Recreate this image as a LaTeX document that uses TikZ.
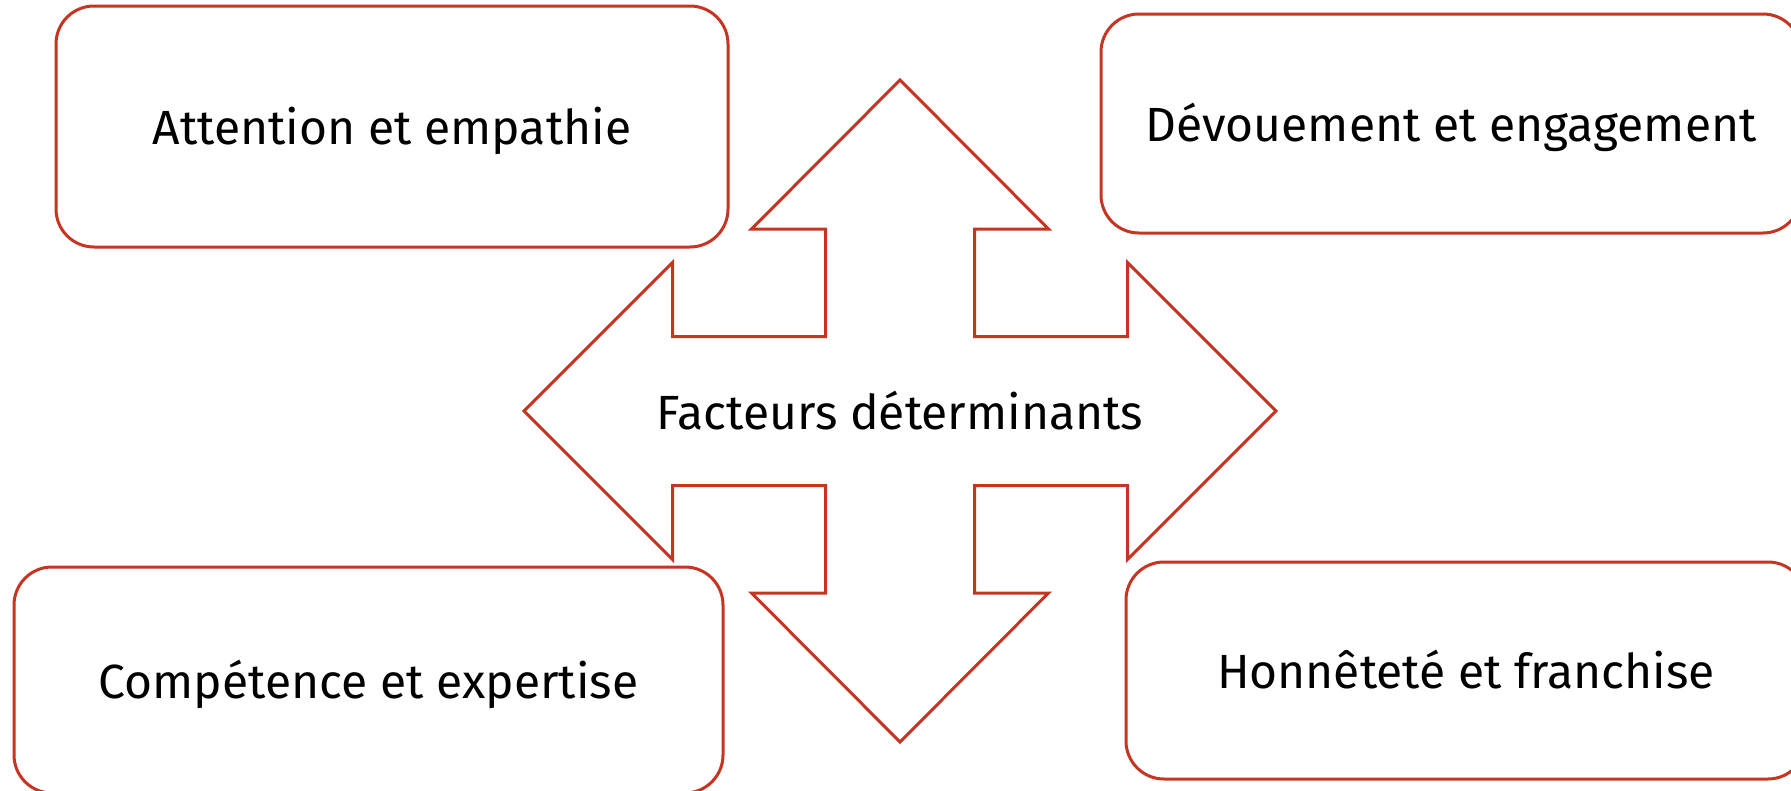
\documentclass[tikz,border=0pt]{standalone}
\usepackage{fontspec}
\setmainfont{Fira Sans}
\usepackage{tikz}
\usetikzlibrary{positioning, calc}
\definecolor{rouge}{RGB}{198,52,34}

\begin{document}
\begin{tikzpicture}[x=1pt,y=-1pt,line width=3pt,
  font=\fontsize{48}{56}\selectfont,
  facteur/.style={draw=rouge,fill=white,rounded corners=38pt,align=center,inner sep=0pt,
    text height=36pt,text depth=0pt}]
  \def\sw{74.5}   % demi-largeur du tronc
  \def\hw{148.5}  % demi-largeur de la pointe
  \def\hx{227.5}  % base des pointes horizontales
  \def\tx{376}    % sommet des pointes horizontales
  \def\hy{182}    % base des pointes verticales
  \def\ty{331}    % sommet des pointes verticales

  \useasboundingbox (0,0) rectangle (1791,790);
  \clip (0,0) rectangle (1791,790);

  % ---------- croix centrale ----------
  \begin{scope}[shift={(900,411)}]
    \draw[rouge,line join=miter] (0,-\ty) -- (\hw,-\hy) -- (\sw,-\hy) -- (\sw,-\sw)
      -- (\hx,-\sw) -- (\hx,-\hw) -- (\tx,0) -- (\hx,\hw) -- (\hx,\sw)
      -- (\sw,\sw) -- (\sw,\hy) -- (\hw,\hy) -- (0,\ty) -- (-\hw,\hy)
      -- (-\sw,\hy) -- (-\sw,\sw) -- (-\hx,\sw) -- (-\hx,\hw) -- (-\tx,0)
      -- (-\hx,-\hw) -- (-\hx,-\sw) -- (-\sw,-\sw) -- (-\sw,-\hy) -- (-\hw,-\hy) -- cycle;
    \node[inner sep=0pt,text height=36pt,text depth=0pt] (centre) at (0,0) {Facteurs déterminants};
  \end{scope}

  % ---------- quatre facteurs ----------
  \node[facteur,minimum width=672,minimum height=241] (empathie) at (392,126.5) {Attention et empathie};
  \node[facteur,minimum width=700,minimum height=219] (devouement) at (1451,123.5) {Dévouement et engagement};
  \node[facteur,minimum width=709,minimum height=226] (competence) at (368.5,680) {Compétence et expertise};
  \node[facteur,minimum width=680,minimum height=217] (honnetete) at (1466,670.5) {Honnêteté et franchise};
\end{tikzpicture}
\end{document}
